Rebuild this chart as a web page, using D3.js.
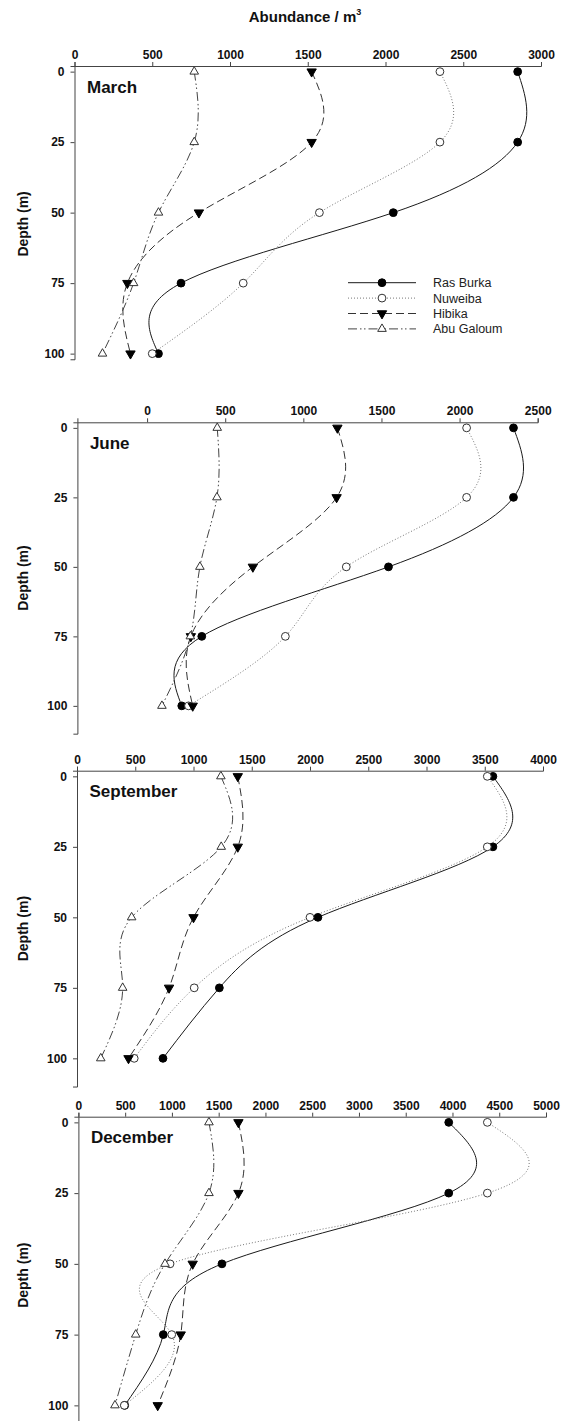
<!DOCTYPE html>
<html>
<head>
<meta charset="utf-8">
<script src="https://cdn.jsdelivr.net/npm/d3@7"></script>
<style>
  body { margin: 0; background: #fff; }
  svg { display: block; font-family: "Liberation Sans", Arial, sans-serif; }
</style>
</head>
<body>
<div id="chart"></div>
<script>
// depths sampled at each station
var depths = [0, 25, 50, 75, 100];
var stations = ["Ras Burka", "Nuweiba", "Hibika", "Abu Galoum"];
var months = ["March", "June", "September", "December"];

// abundance per station (rows follow `stations`), values per depth
var marchValues = [
  [2850, 2850, 2050, 685, 540],
  [2350, 2350, 1575, 1085, 500],
  [1525, 1525, 800, 340, 360],
  [770, 770, 540, 380, 180]
];
var juneValues = [
  [2345, 2345, 1545, 350, 222],
  [2045, 2045, 1275, 885, 265],
  [1218, 1213, 677, 280, 292],
  [449, 447, 338, 277, 95]
];
var septemberValues = [
  [3570, 3570, 2068, 1222, 738],
  [3522, 3522, 2000, 1006, 491],
  [1380, 1380, 1000, 790, 442],
  [1235, 1238, 469, 392, 204]
];
var decemberValues = [
  [3960, 3960, 1535, 908, 495],
  [4373, 4373, 980, 998, 491],
  [1711, 1711, 1222, 1094, 848],
  [1396, 1396, 926, 613, 391]
];

var marchTicks = [0, 500, 1000, 1500, 2000, 2500, 3000];
var juneTicks = [0, 500, 1000, 1500, 2000, 2500];
var septemberTicks = [0, 500, 1000, 1500, 2000, 2500, 3000, 3500, 4000];
var decemberTicks = [0, 500, 1000, 1500, 2000, 2500, 3000, 3500, 4000, 4500, 5000];

var marchDomain = [0, 3000];
var juneDomain = [-446, 2500];
var septemberDomain = [0, 4000];
var decemberDomain = [0, 5000];

var W = 564, H = 1421;

// layout of each panel (pixels)
var panels = [
  { name: months[0], values: marchValues, ticks: marchTicks, domain: marchDomain,
    left: 74.5, right: 541, top: 66, unit: 2.82, axisEnd: 102, legend: true },
  { name: months[1], values: juneValues, ticks: juneTicks, domain: juneDomain,
    left: 77.4, right: 537.7, top: 422.3, unit: 2.78, axisEnd: 110 },
  { name: months[2], values: septemberValues, ticks: septemberTicks, domain: septemberDomain,
    left: 77, right: 543, top: 770.7, unit: 2.82, axisEnd: 110 },
  { name: months[3], values: decemberValues, ticks: decemberTicks, domain: decemberDomain,
    left: 78.4, right: 546, top: 1116.7, unit: 2.83, axisEnd: 110 }
];

// line / marker style per station
var styles = [
  { stroke: "#1a1a1a", dash: null, marker: "circle", fill: "#000" },
  { stroke: "#777", dash: "1,2", marker: "circle", fill: "#fff" },
  { stroke: "#333", dash: "8,4", marker: "down", fill: "#000" },
  { stroke: "#444", dash: "9,3,1.5,2.5,1.5,3", marker: "up", fill: "#fff" }
];

var svg = d3.select("#chart").append("svg")
  .attr("width", W).attr("height", H);

svg.append("text")
  .attr("x", 305).attr("y", 22)
  .attr("text-anchor", "middle")
  .attr("font-size", 15).attr("font-weight", "bold").attr("fill", "#111")
  .text("Abundance / m")
  .append("tspan").attr("font-size", 9).attr("dy", -7).text("3");

function drawMarker(g, st, x, y) {
  if (st.marker == "circle") {
    g.append("circle").attr("cx", x).attr("cy", y).attr("r", 3.9)
      .attr("fill", st.fill).attr("stroke", st.fill == "#000" ? "#000" : "#333").attr("stroke-width", 1);
  } else {
    g.append("path")
      .attr("d", d3.symbol().type(d3.symbolTriangle).size(st.marker == "down" ? 38 : 32)())
      .attr("transform", "translate(" + x + "," + y + ")" + (st.marker == "down" ? " rotate(180)" : ""))
      .attr("fill", st.fill).attr("stroke", st.fill == "#000" ? "#000" : "#333").attr("stroke-width", 1);
  }
}

panels.forEach(function (p) {
  var g = svg.append("g");
  var x = d3.scaleLinear().domain(p.domain).range([p.left, p.right]);
  var y = d3.scaleLinear().domain([-2, 110]).range([p.top, p.top + 112 * p.unit]);

  // x axis on top
  var xa = g.append("g").attr("transform", "translate(0," + p.top + ")")
    .call(d3.axisTop(x).tickValues(p.ticks).tickSizeOuter(0).tickSize(4).tickPadding(3)
      .tickFormat(d3.format("d")));
  // y axis: domain line only down to axisEnd
  var yAxisScale = y.copy().domain([-2, p.axisEnd]).range([p.top, y(p.axisEnd)]);
  var ya = g.append("g").attr("transform", "translate(" + p.left + ",0)")
    .call(d3.axisLeft(yAxisScale).tickValues(depths).tickSizeOuter(0).tickSize(4).tickPadding(6));

  [xa, ya].forEach(function (a) {
    a.selectAll("path, line").attr("stroke", "#444").attr("stroke-width", 1);
    a.selectAll("text").attr("font-size", 12).attr("font-weight", "bold").attr("fill", "#111")
      .attr("font-family", "'Liberation Sans', Arial, sans-serif");
  });

  // y axis title
  var mid = (p.top + y(110)) / 2;
  g.append("text")
    .attr("transform", "translate(28," + mid + ") rotate(-90)")
    .attr("text-anchor", "middle")
    .attr("font-size", 14).attr("font-weight", "bold").attr("fill", "#111")
    .text("Depth (m)");

  // month label
  g.append("text")
    .attr("x", p.left + 12.5).attr("y", p.top + 26.5)
    .attr("font-size", 17).attr("font-weight", "bold").attr("fill", "#111")
    .text(p.name);

  var line = d3.line()
    .x(function (d) { return x(d[1]); })
    .y(function (d) { return y(d[0]); })
    .curve(d3.curveNatural);

  p.values.forEach(function (vals, i) {
    var st = styles[i];
    var pts = depths.map(function (dep, j) { return [dep, vals[j]]; });
    g.append("path").datum(pts)
      .attr("d", line)
      .attr("fill", "none")
      .attr("stroke", st.stroke).attr("stroke-width", 1)
      .attr("stroke-dasharray", st.dash);
  });

  p.values.forEach(function (vals, i) {
    var st = styles[i];
    depths.forEach(function (dep, j) {
      drawMarker(g, st, x(vals[j]), y(dep));
    });
  });

  if (p.legend) {
    var lg = g.append("g");
    stations.forEach(function (s, i) {
      var st = styles[i];
      var ly = 282.7 + i * 15.4;
      lg.append("line").attr("x1", 348).attr("x2", 416).attr("y1", ly).attr("y2", ly)
        .attr("stroke", st.stroke).attr("stroke-width", 1).attr("stroke-dasharray", st.dash);
      drawMarker(lg, st, 382, ly);
      lg.append("text").attr("x", 433).attr("y", ly + 4.4)
        .attr("font-size", 12.5).attr("fill", "#222").text(s);
    });
  }
});
</script>
</body>
</html>
